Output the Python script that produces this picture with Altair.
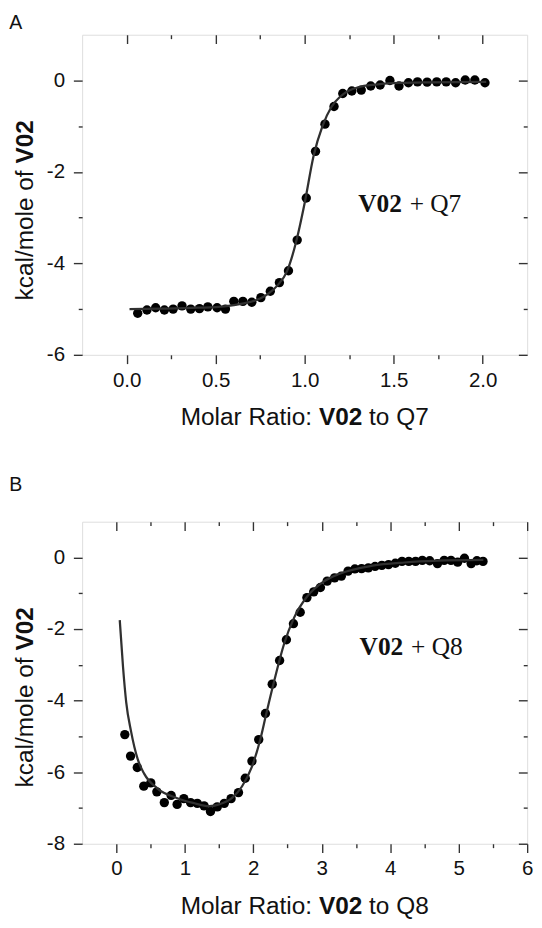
import altair as alt
import pandas as pd

# ---------------- data: panel A (V02 + Q7) ----------------
a_x = [0.062, 0.114, 0.163, 0.212, 0.261, 0.311, 0.360, 0.409, 0.456, 0.508,
       0.555, 0.602, 0.653, 0.703, 0.754, 0.807, 0.858, 0.909, 0.958, 1.009,
       1.061, 1.114, 1.165, 1.214, 1.265, 1.318, 1.371, 1.424, 1.479, 1.530,
       1.583, 1.634, 1.688, 1.742, 1.795, 1.848, 1.902, 1.956, 2.013]
a_y = [-5.09, -5.02, -4.97, -5.02, -5.00, -4.93, -5.00, -4.99, -4.95, -4.97,
       -5.00, -4.83, -4.83, -4.85, -4.75, -4.61, -4.42, -4.16, -3.49, -2.57,
       -1.55, -0.955, -0.57, -0.285, -0.23, -0.21, -0.12, -0.10, 0.0, -0.12,
       -0.05, -0.03, -0.035, -0.03, -0.03, -0.05, 0.01, 0.01, -0.05]
a_fit_x = [0.016, 0.2, 0.4, 0.55, 0.65, 0.75, 0.8, 0.85, 0.9, 0.95, 1.0, 1.05,
           1.1, 1.15, 1.2, 1.25, 1.3, 1.4, 1.5, 1.7, 2.02]
a_fit_y = [-5.0, -4.99, -4.97, -4.94, -4.88, -4.77, -4.65, -4.47, -4.18, -3.56,
           -2.68, -1.65, -1.0, -0.58, -0.35, -0.22, -0.15, -0.09, -0.06, -0.04, -0.03]

# ---------------- data: panel B (V02 + Q8) ----------------
b_x = [0.123, 0.207, 0.305, 0.400, 0.502, 0.591, 0.700, 0.800, 0.887, 0.985,
       1.084, 1.182, 1.281, 1.374, 1.473, 1.576, 1.675, 1.783, 1.882, 1.980,
       2.079, 2.177, 2.276, 2.384, 2.483, 2.586, 2.685, 2.783, 2.882, 2.980,
       3.079, 3.187, 3.286, 3.384, 3.483, 3.581, 3.680, 3.778, 3.877, 3.975,
       4.074, 4.172, 4.271, 4.370, 4.468, 4.576, 4.690, 4.788, 4.887, 4.985,
       5.084, 5.182, 5.266, 5.355]
b_y = [-4.95, -5.55, -5.87, -6.39, -6.30, -6.55, -6.85, -6.65, -6.90, -6.74,
       -6.85, -6.87, -6.94, -7.10, -6.97, -6.87, -6.74, -6.57, -6.17, -5.69,
       -5.09, -4.36, -3.54, -2.88, -2.30, -1.85, -1.53, -1.12, -0.96, -0.84,
       -0.66, -0.57, -0.52, -0.38, -0.32, -0.31, -0.29, -0.25, -0.22, -0.20,
       -0.16, -0.11, -0.11, -0.11, -0.08, -0.09, -0.17, -0.08, -0.08, -0.13,
       -0.02, -0.17, -0.09, -0.11]
b_fit_x = [0.049, 0.096, 0.143, 0.214, 0.31, 0.405, 0.596, 0.88, 1.12, 1.357,
           1.50, 1.69, 1.834, 1.977, 2.096, 2.19, 2.31, 2.45, 2.596, 2.786,
           3.02, 3.26, 3.74, 4.21, 4.69, 5.36]
b_fit_y = [-1.75, -3.04, -4.04, -4.86, -5.63, -6.04, -6.45, -6.72, -6.86, -6.95,
           -6.90, -6.72, -6.40, -5.86, -5.13, -4.36, -3.41, -2.41, -1.68, -1.09,
           -0.68, -0.455, -0.23, -0.14, -0.09, -0.065]

# ---------------- axis ticks / labels ----------------
a_x_major = [0.0, 0.5, 1.0, 1.5, 2.0]
a_x_minor = [0.25, 0.75, 1.25, 1.75]
a_y_major = [-6, -4, -2, 0]
a_y_minor = [-5, -3, -1]
b_x_major = [0, 1, 2, 3, 4, 5, 6]
b_x_minor = [0.5, 1.5, 2.5, 3.5, 4.5, 5.5]
b_y_major = [-8, -6, -4, -2, 0]
b_y_minor = [-7, -5, -3, -1]

SANS = "Liberation Sans"
SERIF = "Liberation Serif"
INK = "#111111"
FRAME = "#333333"
W = 456


def panel(letter, px, py, fx, fy, xdom, ydom, xmaj, xmin, ymaj, ymin,
          x_fmt, partner, ann_x, ann_y, height, letter_y):
    pts = pd.DataFrame({"x": px, "y": py})
    fit = pd.DataFrame({"x": fx, "y": fy})
    xs = alt.Scale(domain=xdom, nice=False, zero=False)
    ys = alt.Scale(domain=ydom, nice=False, zero=False)

    def cond(vals, big, small):
        test = " || ".join(f"abs(datum.value - ({v})) < 1e-6" for v in vals)
        return {"condition": {"test": test, "value": big}, "value": small}

    label_test_x = " || ".join(f"abs(datum.value - ({v})) < 1e-6" for v in xmaj)
    label_test_y = " || ".join(f"abs(datum.value - ({v})) < 1e-6" for v in ymaj)

    common = dict(grid=False, domain=False, title=None, tickColor=FRAME,
                  tickWidth=1.4)

    x_main = alt.Axis(orient="bottom", values=sorted(xmaj + xmin),
                      tickSize=cond(xmaj, 9, 4),
                      labelExpr=f"({label_test_x}) ? replace(format(datum.value, '{x_fmt}'), '\u2212', '-') : ''",
                      labelFont=SANS, labelFontSize=21, labelColor=INK,
                      labelPadding=6, labelFlush=False, labelOverlap=False,
                      **common)
    y_main = alt.Axis(orient="left", values=sorted(ymaj + ymin),
                      tickSize=cond(ymaj, 9, 4),
                      labelExpr=f"({label_test_y}) ? replace(format(datum.value, 'd'), '\u2212', '-') : ''",
                      labelFont=SANS, labelFontSize=21, labelColor=INK,
                      labelPadding=9, labelFlush=False, labelOverlap=False,
                      **common)
    x_top_major = alt.Axis(orient="top", values=xmaj, tickSize={"expr": "-9"},
                           labels=False, minExtent=0, **common)
    y_right_major = alt.Axis(orient="right", values=ymaj, tickSize={"expr": "-9"},
                             labels=False, minExtent=0, **common)
    x_top_minor = alt.Axis(orient="top", values=xmin, tickSize={"expr": "-4"},
                           labels=False, minExtent=0, **common)
    y_right_minor = alt.Axis(orient="right", values=ymin, tickSize={"expr": "-4"},
                             labels=False, minExtent=0, **common)

    points = alt.Chart(pts).mark_circle(size=92, color="black", opacity=1).encode(
        x=alt.X("x:Q", scale=xs, axis=x_top_major),
        y=alt.Y("y:Q", scale=ys, axis=y_right_major),
    )
    line = alt.Chart(fit).mark_line(color="#303030", strokeWidth=2.3,
                                    interpolate="monotone").encode(
        x=alt.X("x:Q", scale=xs, axis=x_main),
        y=alt.Y("y:Q", scale=ys, axis=y_main),
    )
    ann = pd.DataFrame({"x": [ann_x], "y": [ann_y], "a": ["V02"],
                        "b": ["+ " + partner]})
    ann_bold = alt.Chart(ann).mark_text(font=SERIF, fontSize=26, fontWeight="bold",
                                        align="right", baseline="alphabetic",
                                        color=INK).encode(
        x=alt.X("x:Q", scale=xs, axis=x_top_minor),
        y=alt.Y("y:Q", scale=ys, axis=y_right_minor),
        text="a:N",
    )
    ann_norm = alt.Chart(ann).mark_text(font=SERIF, fontSize=26, align="left",
                                        baseline="alphabetic", dx=8,
                                        color=INK).encode(
        x=alt.X("x:Q", scale=xs, axis=None),
        y=alt.Y("y:Q", scale=ys, axis=None),
        text="b:N",
    )

    # panel letter
    lt = alt.Chart(pd.DataFrame({"t": [letter]})).mark_text(
        font=SANS, fontSize=20, align="left", baseline="alphabetic", color=INK
    ).encode(x=alt.value(-74.7), y=alt.value(letter_y), text="t:N")

    # y-axis title: "kcal/mole of " + bold "V02"
    yt = pd.DataFrame({"t": ["kcal/mole of"]})
    yb = pd.DataFrame({"t": ["V02"]})
    ytitle1 = alt.Chart(yt).mark_text(font=SANS, fontSize=25, angle=270,
                                      align="right", baseline="alphabetic",
                                      color=INK).encode(
        x=alt.value(-50), y=alt.value(139), text="t:N")
    ytitle2 = alt.Chart(yb).mark_text(font=SANS, fontSize=25, angle=270,
                                      fontWeight="bold", align="left",
                                      baseline="alphabetic", color=INK).encode(
        x=alt.value(-50), y=alt.value(132), text="t:N")

    # x-axis title: "Molar Ratio: " + bold "V02" + " to Qn"
    ty = height + 72
    xt1 = alt.Chart(pd.DataFrame({"t": ["Molar Ratio:"]})).mark_text(
        font=SANS, fontSize=25, align="right", baseline="alphabetic", color=INK
    ).encode(x=alt.value(235.6), y=alt.value(ty), text="t:N")
    xt2 = alt.Chart(pd.DataFrame({"t": ["V02"]})).mark_text(
        font=SANS, fontSize=25, fontWeight="bold", align="left",
        baseline="alphabetic", color=INK
    ).encode(x=alt.value(242.6), y=alt.value(ty), text="t:N")
    xt3 = alt.Chart(pd.DataFrame({"t": ["to " + partner]})).mark_text(
        font=SANS, fontSize=25, align="left", baseline="alphabetic", color=INK
    ).encode(x=alt.value(294.0), y=alt.value(ty), text="t:N")

    return alt.layer(
        points, line, ann_bold, ann_norm, lt, ytitle1, ytitle2, xt1, xt2, xt3
    ).resolve_axis(x="independent", y="independent").properties(
        width=W, height=height
    )


pa = panel("A", a_x, a_y, a_fit_x, a_fit_y, [-0.25, 2.25], [-6, 1],
           a_x_major, a_x_minor, a_y_major, a_y_minor, ".1f", "Q7",
           1.546, -2.887, 328, -6)
pb = panel("B", b_x, b_y, b_fit_x, b_fit_y, [-0.5, 6], [-8, 1],
           b_x_major, b_x_minor, b_y_major, b_y_minor, "d", "Q8",
           4.19, -2.725, 330, -31)

chart = alt.vconcat(pa, pb, spacing=45).properties(
    padding={"left": 0, "top": -7, "right": 0, "bottom": 0}
).configure_view(stroke=FRAME, strokeWidth=1.5).configure(background="white")

chart.save("out.html", embed_options={"renderer": "svg", "actions": False})
